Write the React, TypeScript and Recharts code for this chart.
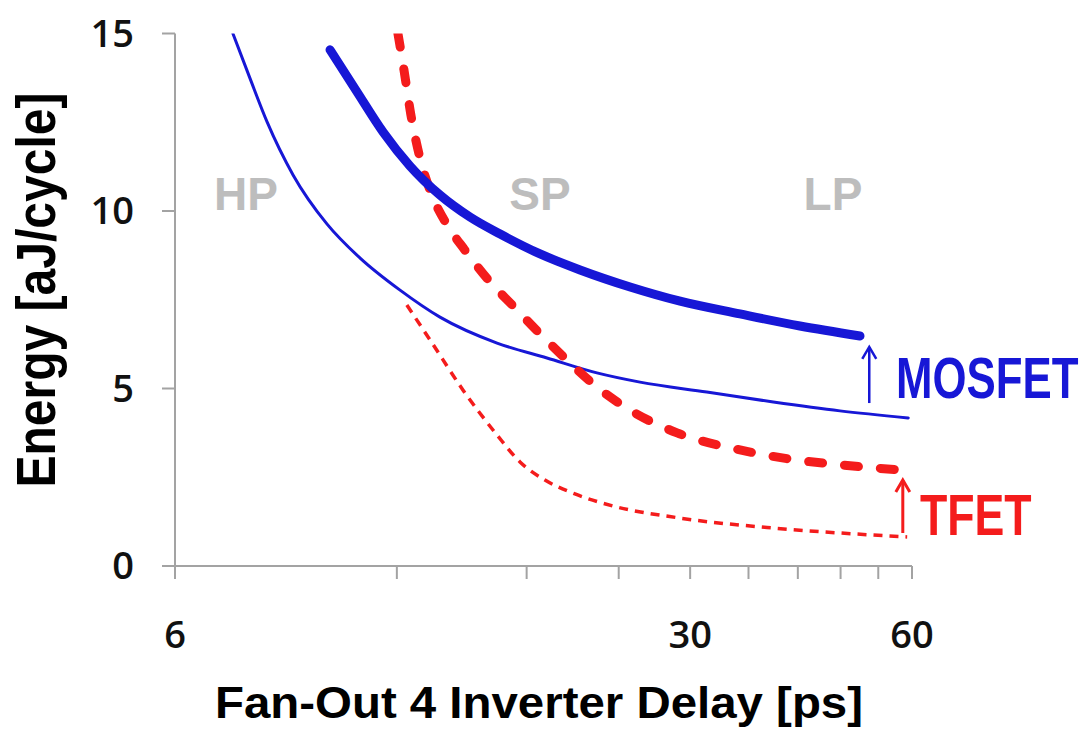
import React from 'react';
import { LineChart, Line, XAxis, YAxis, ReferenceLine, Customized } from 'recharts';

// ---- axis ticks ----
const xTicks = [6, 12, 18, 24, 30, 36, 42, 48, 54, 60];
const xTickLabels = ['6', '', '', '', '30', '', '', '', '', '60'];
const yTicks = [0, 5, 10, 15];

// ---- MOSFET (upper, thick solid) ----
const mosHighDelay = [9.74, 10.6, 11.49, 12.5, 13.73, 15.08, 16.57, 18.77, 21.27, 24.87, 29.07, 35.05, 42.28, 51.0];
const mosHighEnergy = [14.54, 13.35, 12.23, 11.27, 10.45, 9.83, 9.35, 8.79, 8.34, 7.86, 7.46, 7.1, 6.76, 6.48];

// ---- MOSFET (lower, thin solid) ----
const mosLowDelay = [7.19, 7.58, 8.0, 8.68, 9.65, 10.69, 12.12, 13.73, 16.41, 19.18, 22.42, 25.65, 31.6, 38.9, 47.9, 59.3];
const mosLowEnergy = [15.0, 13.75, 12.51, 11.01, 9.63, 8.68, 7.77, 7.01, 6.28, 5.86, 5.44, 5.18, 4.9, 4.62, 4.37, 4.17];

// ---- TFET (upper, thick dashed) ----
const tfetHighDelay = [12.04, 12.27, 12.54, 12.9, 13.39, 14.03, 14.84, 16.06, 17.36, 18.77, 20.42, 22.42, 24.87, 28.8, 35.05, 41.0, 47.9, 58.3];
const tfetHighEnergy = [15.0, 13.97, 12.7, 11.49, 10.45, 9.62, 8.9, 8.0, 7.27, 6.54, 5.8, 5.04, 4.39, 3.75, 3.27, 3.01, 2.85, 2.7];

// ---- TFET (lower, thin dashed) ----
const tfetLowDelay = [12.38, 13.31, 14.75, 16.41, 17.63, 19.06, 20.93, 23.57, 29.07, 38.87, 47.9, 59.1];
const tfetLowEnergy = [7.35, 6.37, 4.96, 3.69, 2.93, 2.42, 2.03, 1.69, 1.35, 1.07, 0.93, 0.82];

// ---- arrows (delay, from energy, to energy) ----
const mosArrow = [52.5, 4.59, 6.17];
const tfetArrow = [58.3, 0.93, 2.42];

const zip = (xs: number[], ys: number[]) => xs.map((x, i) => ({ x, y: ys[i] }));

const mosHigh = zip(mosHighDelay, mosHighEnergy);
const mosLow = zip(mosLowDelay, mosLowEnergy);
const tfetHigh = zip(tfetHighDelay, tfetHighEnergy);
const tfetLow = zip(tfetLowDelay, tfetLowEnergy);

const BLUE = '#1717d6';
const RED = '#f41c1c';
const AXIS = '#a3a3a3';
const GRAY = '#bdbdbd';
const ARIAL = '"Liberation Sans", Arial, sans-serif';
const TICKFONT = '"Open Sans", sans-serif';

const ArrowShape = (props: any) => {
  const { x1, y1, x2, y2, stroke, strokeWidth } = props;
  if (x1 == null || y2 == null) return null;
  return (
    <g>
      <line x1={x1} y1={y1} x2={x2} y2={y2} stroke={stroke} strokeWidth={strokeWidth} />
      <path
        d={`M ${x2 - 7} ${y2 + 12} L ${x2} ${y2} L ${x2 + 7} ${y2 + 12}`}
        fill="none"
        stroke={stroke}
        strokeWidth={strokeWidth}
      />
    </g>
  );
};

const Annotations = () => (
  <g>
    <text x={246} y={210} textAnchor="middle" fontFamily={ARIAL} fontWeight="bold" fontSize={46} fill={GRAY}>HP</text>
    <text x={540} y={210} textAnchor="middle" fontFamily={ARIAL} fontWeight="bold" fontSize={46} fill={GRAY}>SP</text>
    <text x={833} y={210} textAnchor="middle" fontFamily={ARIAL} fontWeight="bold" fontSize={46} fill={GRAY}>LP</text>
    <text transform="translate(896,398) scale(0.755,1)" x={0} y={0} fontFamily={ARIAL} fontWeight="bold" fontSize={58} fill={BLUE}>MOSFET</text>
    <text transform="translate(920,535) scale(0.77,1)" x={0} y={0} fontFamily={ARIAL} fontWeight="bold" fontSize={58} fill={RED}>TFET</text>
    <text x={539} y={718} textAnchor="middle" fontFamily={ARIAL} fontWeight="bold" fontSize={45} fill="#000" textLength={648} lengthAdjust="spacingAndGlyphs">Fan-Out 4 Inverter Delay [ps]</text>
    <text transform="translate(55,290) rotate(-90)" textAnchor="middle" fontFamily={ARIAL} fontWeight="bold" fontSize={55} fill="#000" textLength={395} lengthAdjust="spacingAndGlyphs">Energy [aJ/cycle]</text>
  </g>
);

export default function App() {
  return (
    <div style={{ position: 'absolute', left: 0, top: 0, width: 1086, height: 730, background: '#fff' }}>
      <LineChart width={1086} height={730} margin={{ top: 33.5, right: 174, bottom: 64, left: 75 }}>
        <XAxis
          dataKey="x"
          type="number"
          scale="log"
          domain={[6, 60]}
          allowDataOverflow
          ticks={xTicks}
          interval={0}
          height={100}
          tickFormatter={(v: number) => xTickLabels[xTicks.indexOf(v)] ?? ''}
          axisLine={{ stroke: AXIS, strokeWidth: 2 }}
          tickLine={{ stroke: AXIS, strokeWidth: 2 }}
          tickSize={13}
          tickMargin={42}
          tick={{ fill: '#111', fontSize: 38, fontFamily: TICKFONT, fontWeight: 600 }}
        />
        <YAxis
          dataKey="y"
          type="number"
          domain={[0, 15]}
          allowDataOverflow
          ticks={yTicks}
          interval={0}
          width={100}
          axisLine={{ stroke: AXIS, strokeWidth: 2 }}
          tickLine={{ stroke: AXIS, strokeWidth: 2 }}
          tickSize={13}
          tickMargin={28}
          tick={{ fill: '#111', fontSize: 38, fontFamily: TICKFONT, fontWeight: 600 }}
        />
        <Line data={mosLow} dataKey="y" type="monotone" stroke={BLUE} strokeWidth={3} dot={false} strokeLinecap="round" isAnimationActive={false} />
        <Line data={tfetLow} dataKey="y" type="monotone" stroke={RED} strokeWidth={3.5} strokeDasharray="9 7" dot={false} isAnimationActive={false} />
        <Line data={tfetHigh} dataKey="y" type="monotone" stroke={RED} strokeWidth={9} strokeDasharray="14 22" strokeLinecap="round" dot={false} isAnimationActive={false} />
        <Line data={mosHigh} dataKey="y" type="monotone" stroke={BLUE} strokeWidth={9} strokeLinecap="round" dot={false} isAnimationActive={false} />
        <ReferenceLine
          segment={[{ x: mosArrow[0], y: mosArrow[1] }, { x: mosArrow[0], y: mosArrow[2] }]}
          stroke={BLUE}
          strokeWidth={2.5}
          shape={ArrowShape}
        />
        <ReferenceLine
          segment={[{ x: tfetArrow[0], y: tfetArrow[1] }, { x: tfetArrow[0], y: tfetArrow[2] }]}
          stroke={RED}
          strokeWidth={3}
          shape={ArrowShape}
        />
        <Customized component={Annotations} />
      </LineChart>
    </div>
  );
}
